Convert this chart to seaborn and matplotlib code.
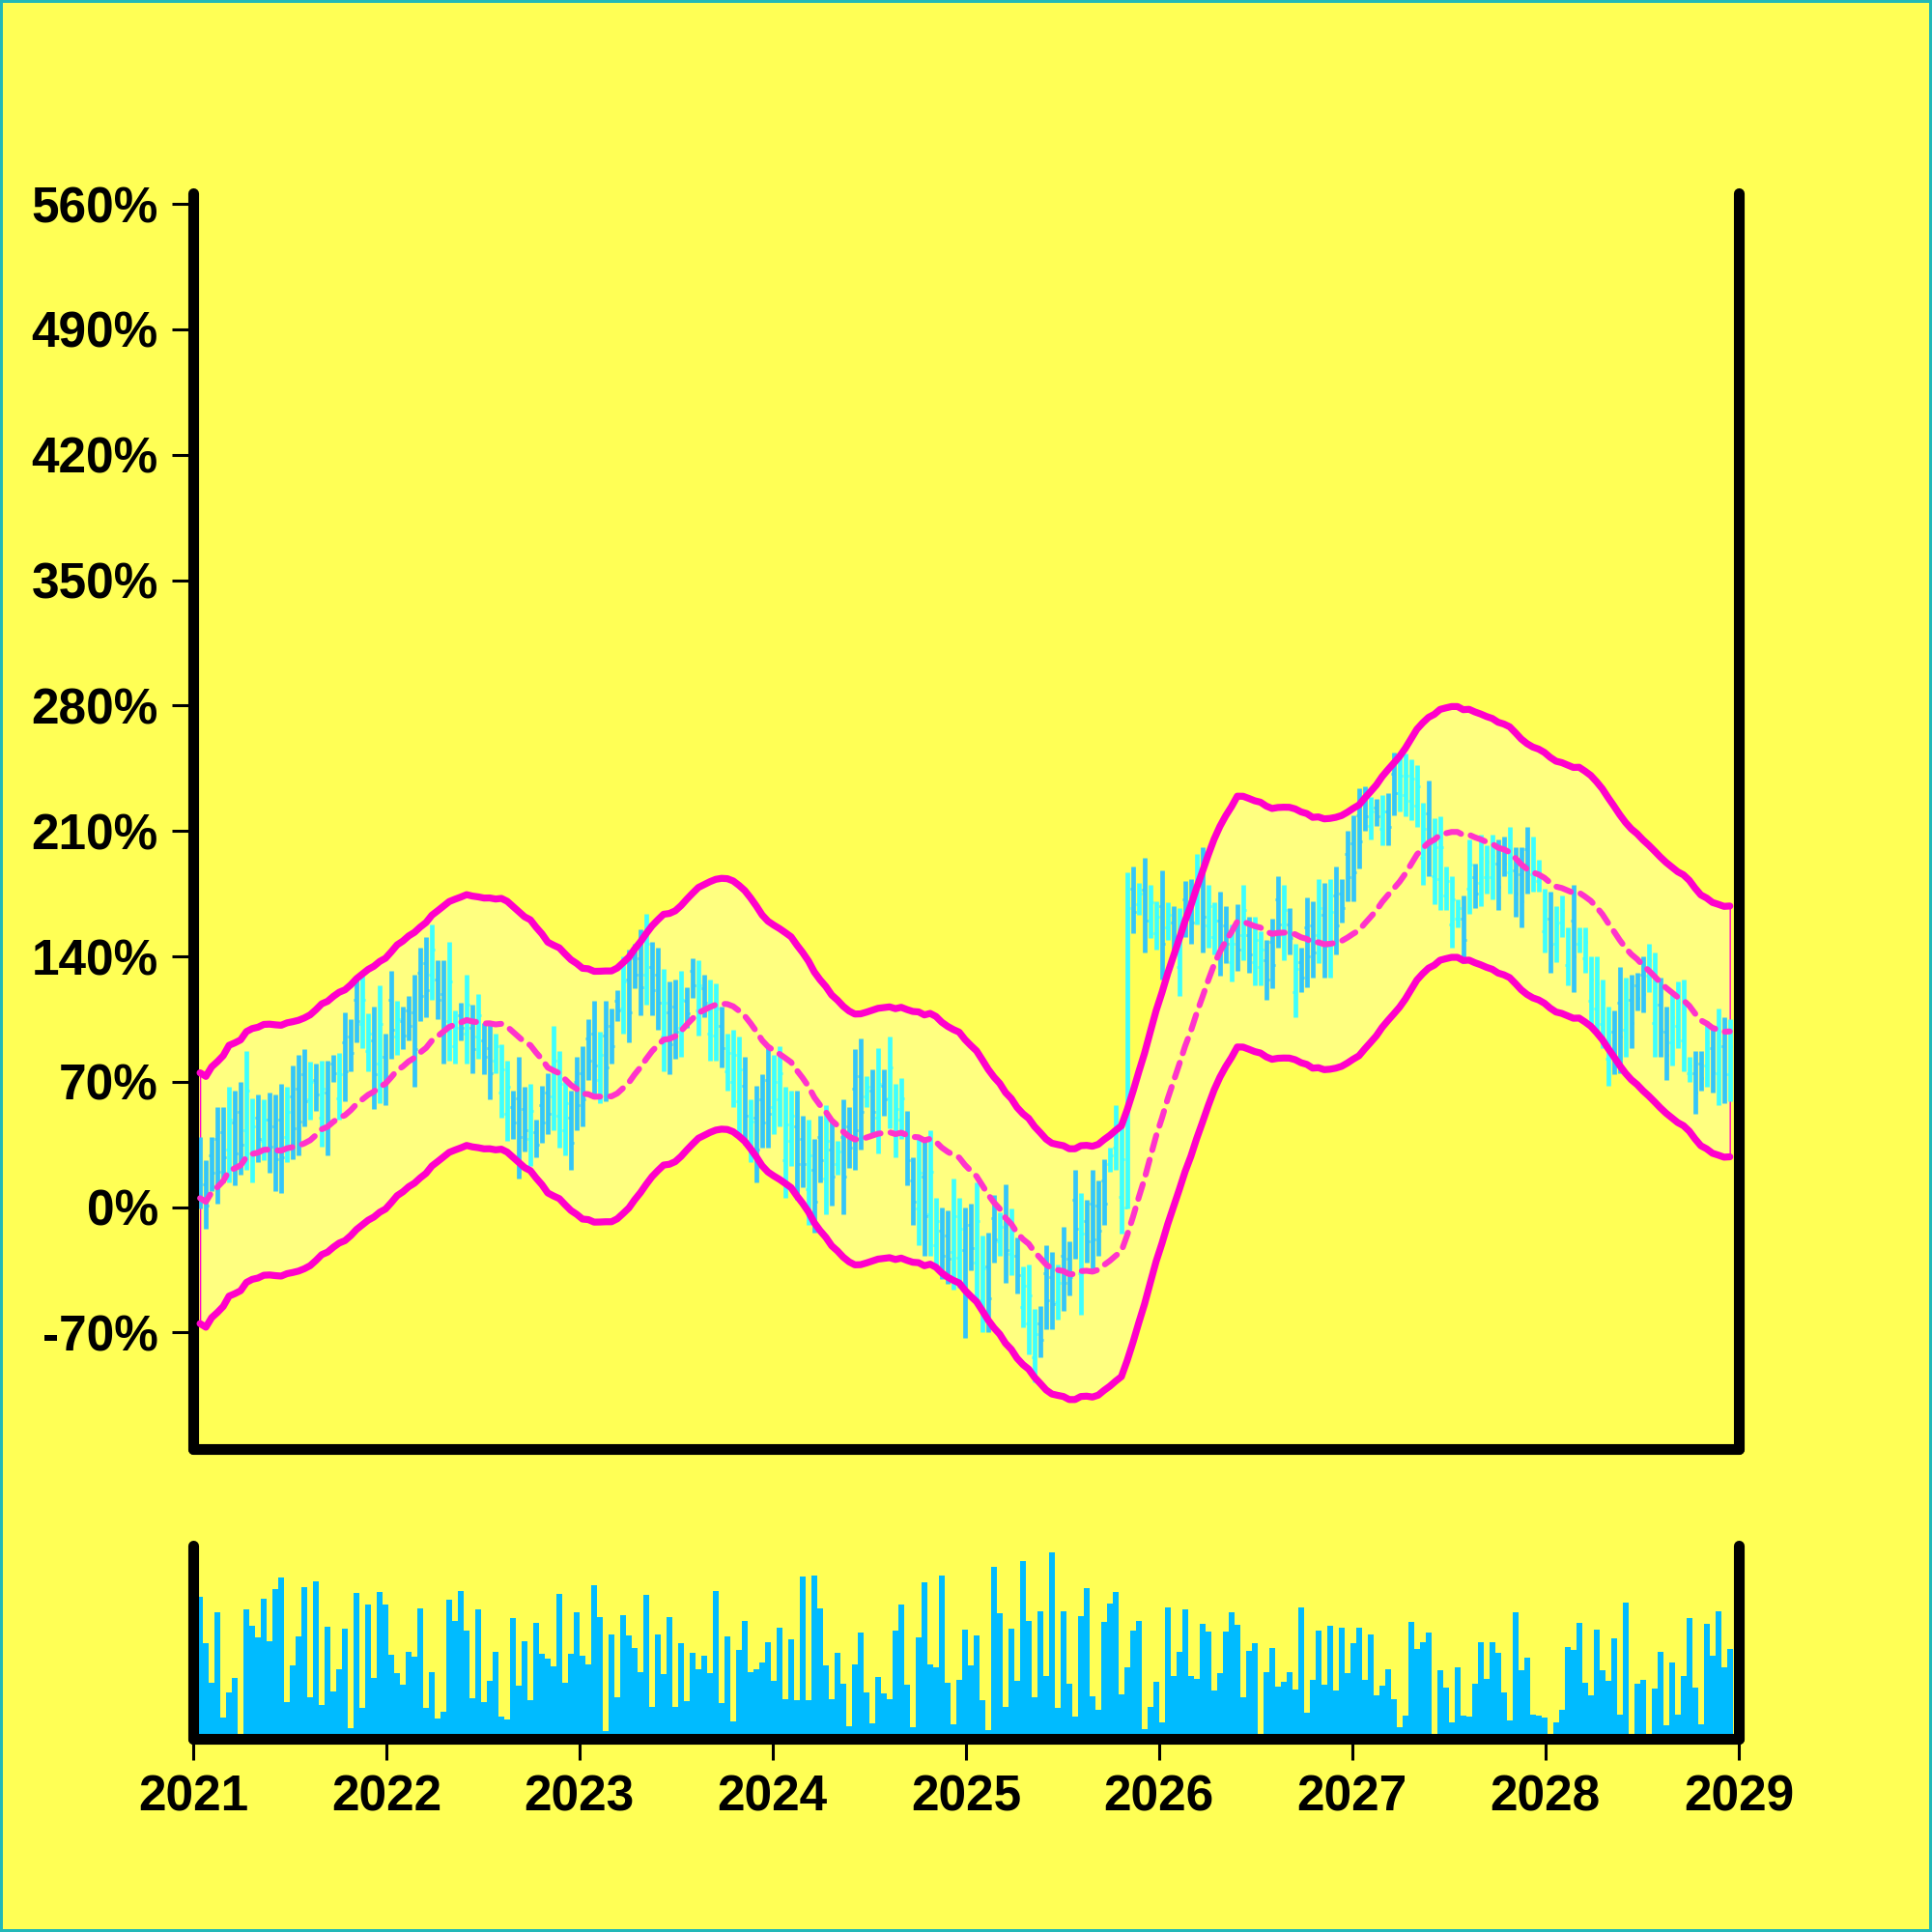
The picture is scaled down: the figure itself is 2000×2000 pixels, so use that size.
import numpy as np
import pandas as pd
import matplotlib
matplotlib.use('Agg')
import matplotlib.pyplot as plt
import matplotlib.dates as mdates
from matplotlib.ticker import FixedLocator, FuncFormatter
import seaborn as sns

# ~11-day bars, 2021-2028
dates = pd.date_range('2021-01-14', '2028-12-15', periods=265)

high = [39, 26, 39, 56, 56, 67, 65, 70, 87, 61,
        63, 60, 64, 63, 69, 67, 79, 85, 88, 81,
        80, 82, 82, 85, 86, 109, 105, 128, 129, 108,
        112, 124, 97, 132, 115, 112, 118, 130, 145, 151,
        158, 138, 138, 148, 110, 114, 130, 113, 119, 103,
        104, 97, 91, 82, 65, 84, 67, 69, 49, 68,
        75, 101, 87, 72, 65, 84, 90, 105, 115, 98,
        115, 111, 121, 140, 144, 147, 155, 164, 148, 145,
        133, 126, 127, 132, 123, 139, 138, 130, 127, 125,
        112, 97, 99, 95, 84, 60, 68, 74, 90, 85,
        90, 67, 65, 65, 51, 49, 38, 51, 57, 48,
        37, 60, 56, 88, 94, 73, 77, 89, 77, 95,
        69, 72, 54, 28, 39, 39, 43, 5, 0, -2,
        16, 5, 0, 2, 14, -16, -14, 7, -3, 13,
        -1, -17, -33, -32, -57, -55, -21, -25, -32, -11,
        -19, 21, 8, 4, 21, 15, 27, 33, 57, 48,
        187, 190, 181, 195, 180, 171, 188, 170, 168, 167,
        182, 183, 197, 201, 180, 170, 176, 168, 158, 169,
        180, 162, 162, 154, 149, 161, 185, 180, 167, 147,
        145, 173, 171, 183, 181, 183, 190, 183, 210, 219,
        234, 235, 229, 228, 230, 231, 254, 251, 253, 250,
        247, 226, 238, 217, 218, 190, 185, 172, 174, 205,
        192, 208, 202, 208, 205, 207, 212, 201, 201, 212,
        207, 194, 178, 176, 168, 174, 156, 180, 156, 156,
        140, 140, 127, 112, 110, 134, 128, 130, 131, 140,
        147, 142, 128, 112, 119, 126, 127, 84, 87, 87,
        104, 101, 111, 106, 105]

low = [-1, -12, 9, 2, 14, 14, 12, 18, 21, 14,
       25, 26, 19, 9, 8, 25, 27, 29, 45, 49,
       54, 34, 29, 70, 49, 59, 76, 92, 89, 76,
       55, 58, 57, 83, 85, 88, 93, 67, 104, 106,
       116, 105, 80, 82, 80, 93, 80, 75, 83, 74,
       60, 75, 50, 37, 38, 16, 31, 23, 28, 36,
       41, 43, 33, 29, 21, 43, 45, 71, 61, 58,
       59, 80, 104, 97, 92, 122, 107, 113, 107, 99,
       76, 74, 83, 84, 100, 117, 96, 106, 82, 82,
       78, 65, 56, 41, 35, 25, 14, 33, 33, 41,
       45, 5, 23, 4, 11, -10, -14, 14, -4, 1,
       18, -4, 22, 21, 32, 56, 41, 30, 51, 44,
       28, 38, 12, -10, -21, -27, -27, -34, -40, -43,
       -46, -45, -73, -35, -53, -70, -70, -31, -27, -42,
       -38, -48, -67, -82, -98, -84, -68, -68, -63, -58,
       -49, -29, -60, -31, -37, -27, -10, 20, 21, -15,
       -1, 153, 163, 142, 150, 144, 127, 149, 142, 118,
       151, 147, 158, 142, 145, 141, 129, 136, 126, 132,
       138, 131, 124, 124, 116, 122, 145, 138, 141, 106,
       120, 123, 128, 136, 128, 128, 141, 159, 171, 171,
       189, 210, 205, 213, 202, 202, 219, 221, 218, 216,
       212, 180, 185, 169, 166, 166, 145, 156, 136, 164,
       167, 168, 175, 172, 166, 185, 175, 162, 156, 175,
       176, 176, 142, 131, 137, 151, 124, 120, 142, 131,
       102, 96, 89, 68, 74, 75, 84, 89, 110, 109,
       120, 84, 84, 71, 79, 89, 76, 70, 52, 65,
       67, 64, 57, 58, 59]

open_ = [30, 13, 29, 38, 42, 32, 47, 53, 43, 30,
         50, 37, 49, 45, 49, 39, 62, 66, 74, 60,
         71, 50, 64, 80, 61, 92, 95, 116, 102, 87,
         93, 80, 84, 116, 95, 104, 110, 109, 131, 136,
         130, 127, 119, 104, 90, 107, 97, 100, 95, 93,
         89, 82, 64, 52, 56, 61, 55, 38, 42, 57,
         64, 62, 51, 43, 50, 70, 75, 94, 97, 71,
         96, 101, 115, 111, 127, 139, 139, 130, 134, 130,
         95, 109, 112, 100, 115, 132, 110, 122, 97, 96,
         101, 76, 70, 59, 68, 37, 50, 60, 71, 56,
         60, 26, 37, 45, 38, 10, 21, 39, 16, 32,
         24, 39, 45, 66, 73, 62, 65, 50, 68, 61,
         42, 49, 40, 15, -1, 17, -4, -21, -13, -16,
         -25, -28, -24, -10, -31, -52, -33, -6, -19, -6,
         -26, -27, -56, -65, -84, -65, -37, -39, -53, -27,
         -29, 4, -37, -8, 2, 1, 15, 24, 33, 6,
         0, 178, 169, 177, 160, 153, 168, 156, 159, 134,
         172, 171, 171, 181, 157, 151, 160, 157, 137, 157,
         152, 152, 137, 134, 138, 148, 172, 152, 158, 120,
         137, 156, 157, 152, 163, 146, 174, 175, 197, 203,
         219, 227, 213, 223, 211, 221, 242, 231, 230, 227,
         224, 195, 220, 185, 183, 174, 158, 161, 161, 178,
         184, 181, 184, 184, 192, 200, 187, 188, 186, 200,
         186, 182, 154, 161, 147, 159, 135, 160, 147, 139,
         115, 111, 102, 83, 98, 114, 99, 116, 124, 130,
         129, 103, 113, 98, 92, 101, 93, 75, 75, 80,
         79, 89, 75, 90, 74]

close = [5, 1, 19, 20, 28, 49, 30, 35, 65, 45,
         38, 49, 34, 27, 28, 53, 44, 48, 59, 70,
         63, 66, 47, 75, 74, 76, 86, 104, 116, 97,
         74, 102, 70, 99, 105, 96, 101, 88, 118, 121,
         144, 116, 99, 126, 100, 100, 113, 88, 107, 84,
         75, 90, 77, 67, 47, 39, 43, 54, 35, 47,
         52, 82, 69, 58, 36, 57, 60, 82, 79, 85,
         78, 90, 110, 126, 109, 130, 123, 147, 121, 114,
         114, 91, 98, 116, 108, 124, 124, 114, 112, 111,
         89, 86, 85, 77, 51, 48, 32, 47, 52, 70,
         75, 46, 51, 24, 24, 29, 3, 26, 37, 17,
         31, 17, 33, 43, 53, 67, 53, 69, 60, 78,
         55, 61, 26, 3, 19, -5, 20, -8, -27, -29,
         -5, -12, -49, -23, -8, -34, -51, -18, -11, -24,
         -13, -38, -44, -49, -71, -74, -52, -54, -42, -42,
         -39, -12, -15, -19, -18, -13, 2, 29, 45, 27,
         167, 165, 175, 160, 170, 162, 147, 163, 151, 151,
         161, 159, 184, 162, 168, 160, 145, 147, 147, 144,
         166, 141, 149, 144, 127, 135, 158, 166, 150, 133,
         128, 140, 142, 167, 146, 165, 157, 167, 184, 187,
         204, 218, 221, 218, 221, 212, 231, 241, 241, 239,
         235, 211, 203, 201, 201, 182, 172, 167, 149, 191,
         175, 195, 193, 196, 179, 192, 200, 175, 171, 187,
         197, 188, 166, 146, 158, 166, 145, 140, 151, 148,
         127, 125, 114, 97, 86, 95, 113, 103, 117, 119,
         138, 123, 99, 85, 106, 114, 110, 79, 64, 72,
         92, 76, 93, 74, 90]

volume = [440, 297, 175, 393, 65, 145, 188, 8, 402, 351,
          315, 434, 304, 465, 502, 115, 228, 317, 471, 130,
          489, 106, 347, 146, 216, 342, 34, 453, 97, 417,
          190, 457, 417, 262, 204, 169, 269, 255, 406, 97,
          206, 63, 83, 432, 367, 460, 336, 126, 403, 114,
          180, 269, 69, 60, 375, 164, 302, 119, 360, 263,
          248, 225, 450, 175, 264, 394, 257, 230, 477, 378,
          25, 323, 130, 385, 320, 282, 208, 448, 99, 325,
          201, 379, 100, 296, 117, 268, 215, 258, 204, 459,
          112, 318, 54, 276, 365, 208, 217, 237, 300, 180,
          344, 123, 309, 119, 503, 120, 506, 404, 228, 122,
          267, 170, 39, 231, 330, 144, 47, 192, 141, 123,
          336, 417, 167, 36, 314, 486, 231, 223, 506, 174,
          46, 182, 340,
          228, 320, 119, 28, 535, 391, 99, 343, 179, 552,
          365, 128, 395, 194, 578, 96, 395, 170, 69, 382,
          468, 133, 91, 363, 420, 455, 139, 221, 336, 365,
          31, 98, 177, 51, 407, 195, 270, 401, 195, 185,
          358, 334, 150, 204, 334, 392, 354, 130, 274, 296,
          8, 207, 282, 163, 176, 207, 154, 407, 82, 182,
          335, 167, 352, 151, 344, 205, 296, 345, 182, 323,
          136, 165, 216, 123, 36, 71, 362, 278, 300, 330,
          8, 213, 158, 52, 222, 71, 70, 170, 300, 186,
          300, 267, 144, 56, 392, 212, 252, 75, 72, 66,
          8, 51, 91, 284, 277, 360, 175, 134, 340, 212,
          180, 311, 76, 424, 8, 171, 184, 8, 156, 270,
          43, 238, 74, 194, 374, 159, 45, 358, 258, 395,
          223, 279]

yticks = [-70, 0, 70, 140, 210, 280, 350, 420, 490, 560]
WINDOW = 20
BAND = 70

YELLOW = '#FFFF55'
PINK = '#FF00CC'
UP = '#3DFFFF'
DOWN = '#33C6FA'

sns.set_style('ticks')
plt.rcParams['font.family'] = ['Liberation Sans', 'DejaVu Sans']
plt.rcParams['font.weight'] = 'bold'
for k in ('text.color', 'xtick.color', 'ytick.color', 'axes.labelcolor'):
    plt.rcParams[k] = 'black'

df = pd.DataFrame({'x': mdates.date2num(dates), 'open': open_, 'high': high,
                   'low': low, 'close': close, 'volume': volume})
df['mid'] = df['close'].rolling(WINDOW, min_periods=1).mean()
df['upper'] = df['mid'] + BAND
df['lower'] = df['mid'] - BAND
cols = np.where(df['close'] >= df['open'], UP, DOWN)

fig = plt.figure(figsize=(10, 10), dpi=200, facecolor=YELLOW,
                 edgecolor='#22B8B8', linewidth=1.5)
ax = fig.add_axes([0.1, 0.25, 0.8, 0.65], facecolor=YELLOW)
axv = fig.add_axes([0.1, 0.1, 0.8, 0.1], facecolor=YELLOW, sharex=ax)

# band fill
ax.fill_between(df['x'], df['lower'], df['upper'], facecolor='#FFFF80',
                edgecolor=PINK, linewidth=0.5, zorder=1)

# ohlc bars
ax.vlines(df['x'], df['low'], df['high'], colors=cols, linewidth=1.7, zorder=2)
ax.hlines(df['open'], df['x'] - 5, df['x'], colors=cols, linewidth=1.0, zorder=2)
ax.hlines(df['close'], df['x'], df['x'] + 5, colors=cols, linewidth=1.0, zorder=2)

# bands
sns.lineplot(data=df, x='x', y='upper', ax=ax, color=PINK, linewidth=2.6,
             solid_capstyle='round', zorder=3)
sns.lineplot(data=df, x='x', y='lower', ax=ax, color=PINK, linewidth=2.6,
             solid_capstyle='round', zorder=3)
sns.lineplot(data=df, x='x', y='mid', ax=ax, color='#FF33CC', linewidth=2.2,
             linestyle=(0, (2.6, 1.7)), dash_capstyle='round', zorder=3)

# volume
axv.bar(df['x'], df['volume'], width=11.0, color='#00BBFF', linewidth=0, zorder=2)

for a in (ax, axv):
    a.spines['top'].set_visible(False)
    for s in ('left', 'right', 'bottom'):
        a.spines[s].set_linewidth(4)
        a.spines[s].set_color('black')
        a.spines[s].set_capstyle('round')
    a.set_xlabel('')
    a.set_ylabel('')

ax.set_xlim(mdates.date2num(pd.Timestamp('2021-01-01')),
            mdates.date2num(pd.Timestamp('2029-01-01')))
ax.set_ylim(-135, 566)
axv.set_ylim(0, 600)

ax.yaxis.set_major_locator(FixedLocator(yticks))
ax.yaxis.set_major_formatter(FuncFormatter(lambda v, p: f'{v:.0f}%'))
ax.tick_params(axis='y', length=8, width=1.1, pad=5, labelsize=18.5,
               direction='out', left=True, right=False, colors='black')
ax.tick_params(axis='x', bottom=False, labelbottom=False)

axv.xaxis.set_major_locator(mdates.YearLocator())
axv.xaxis.set_major_formatter(mdates.DateFormatter('%Y'))
axv.tick_params(axis='x', length=8, width=1.1, pad=5, labelsize=18.5,
                direction='out', bottom=True, colors='black')
axv.tick_params(axis='y', left=False, labelleft=False)

fig.savefig('out.png', dpi=200)
